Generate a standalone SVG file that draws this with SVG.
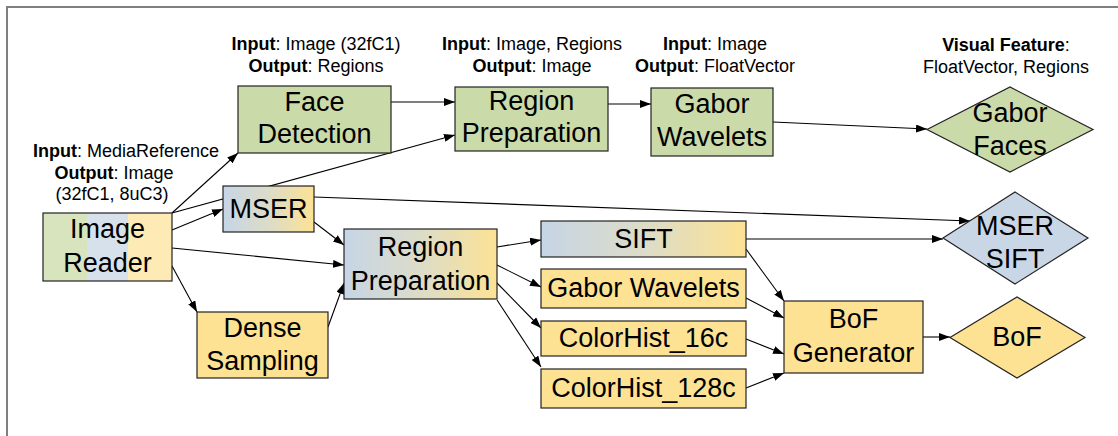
<svg xmlns="http://www.w3.org/2000/svg" width="1118" height="436" viewBox="0 0 1118 436">
  <style>
    text { font-family: "Liberation Sans", Arial, sans-serif; fill: #000; }
    .lbl { font-size: 27px; text-anchor: middle; }
    .note { font-size: 18px; text-anchor: middle; }
    .note tspan.b { font-weight: bold; }
    .box { stroke: #222; stroke-width: 1.2; }
    .green { fill: #cbdaa9; }
    .blue { fill: #c9d6e6; }
    .yellow { fill: #fde294; }
    .mix { fill: url(#blueToYellow); }
    .edge { fill: none; stroke: #000; stroke-width: 1.1; }
    .arr { marker-end: url(#head); }
  </style>
  <defs>
    <linearGradient id="blueToYellow" x1="0" y1="0" x2="1" y2="0">
      <stop offset="0" stop-color="#c6d5e6"/>
      <stop offset="0.5" stop-color="#dcdcc8"/>
      <stop offset="1" stop-color="#fde294"/>
    </linearGradient>
    <marker id="head" viewBox="0 0 11 8" refX="11" refY="4" markerWidth="11" markerHeight="8" markerUnits="userSpaceOnUse" orient="auto">
      <path d="M0,0 L11,4 L0,8 z" fill="#000"/>
    </marker>
  </defs>

  <!-- frame -->
  <path d="M7,436 V7 H1118" fill="none" stroke="#7f7f7f" stroke-width="2"/>

  <!-- annotations -->
  <g id="notes">
    <text class="note" x="316" y="50"><tspan class="b">Input</tspan>: Image (32fC1)</text>
    <text class="note" x="316" y="72"><tspan class="b">Output</tspan>: Regions</text>
    <text class="note" x="532" y="50"><tspan class="b">Input</tspan>: Image, Regions</text>
    <text class="note" x="532" y="72"><tspan class="b">Output</tspan>: Image</text>
    <text class="note" x="715" y="50"><tspan class="b">Input</tspan>: Image</text>
    <text class="note" x="715" y="72"><tspan class="b">Output</tspan>: FloatVector</text>
    <text class="note" x="1006" y="51"><tspan class="b">Visual Feature</tspan>:</text>
    <text class="note" x="1006" y="73">FloatVector, Regions</text>
    <text class="note" x="126" y="157"><tspan class="b">Input</tspan>: MediaReference</text>
    <text class="note" x="114" y="179"><tspan class="b">Output</tspan>: Image</text>
    <text class="note" x="112" y="200">(32fC1, 8uC3)</text>
  </g>

  <!-- connectors -->
  <g id="connectors">
    <line class="edge arr" x1="172" y1="213" x2="238" y2="153"/>
    <line class="edge arr" x1="172" y1="213" x2="455" y2="135"/>
    <line class="edge arr" x1="172" y1="230" x2="223" y2="209"/>
    <line class="edge arr" x1="172" y1="248" x2="344" y2="265"/>
    <line class="edge arr" x1="172" y1="266" x2="197" y2="312"/>
    <line class="edge arr" x1="314" y1="222" x2="344" y2="245"/>
    <line class="edge arr" x1="328" y1="327" x2="344" y2="283"/>
    <line class="edge arr" x1="314" y1="197" x2="970" y2="221"/>
    <line class="edge arr" x1="391" y1="102" x2="455" y2="102"/>
    <line class="edge arr" x1="608" y1="104" x2="651" y2="104"/>
    <line class="edge arr" x1="773" y1="122" x2="927" y2="129"/>
    <line class="edge arr" x1="497" y1="247" x2="541" y2="240"/>
    <line class="edge arr" x1="497" y1="265" x2="541" y2="287"/>
    <line class="edge arr" x1="497" y1="283" x2="541" y2="328"/>
    <line class="edge arr" x1="497" y1="300" x2="541" y2="367"/>
    <line class="edge arr" x1="746" y1="239" x2="943" y2="239"/>
    <line class="edge arr" x1="746" y1="249" x2="784" y2="301"/>
    <line class="edge arr" x1="746" y1="298" x2="784" y2="318"/>
    <line class="edge arr" x1="746" y1="339" x2="784" y2="354"/>
    <line class="edge arr" x1="746" y1="388" x2="784" y2="373"/>
    <line class="edge arr" x1="923" y1="337" x2="950" y2="337"/>
  </g>

  <!-- nodes -->
  <g id="image-reader">
    <rect x="43" y="213" width="44" height="68" fill="#d7e4bd"/>
    <rect x="87" y="213" width="41" height="68" fill="#d6e1ec"/>
    <rect x="128" y="213" width="44" height="68" fill="#feeab5"/>
    <rect x="43" y="213" width="129" height="68" fill="none" class="box"/>
    <text class="lbl" x="107.5" y="238">Image</text>
    <text class="lbl" x="107.5" y="272">Reader</text>
  </g>
  <g id="face-detection">
    <rect class="box green" x="238" y="86" width="153" height="67"/>
    <text class="lbl" x="314.5" y="111">Face</text>
    <text class="lbl" x="314.5" y="143">Detection</text>
  </g>
  <g id="region-prep-faces">
    <rect class="box green" x="455" y="87" width="153" height="64"/>
    <text class="lbl" x="531.5" y="110">Region</text>
    <text class="lbl" x="531.5" y="142">Preparation</text>
  </g>
  <g id="gabor-wavelets-faces">
    <rect class="box green" x="651" y="88" width="122" height="68"/>
    <text class="lbl" x="712" y="113">Gabor</text>
    <text class="lbl" x="712" y="146">Wavelets</text>
  </g>
  <g id="gabor-faces">
    <polygon class="box green" points="927,129.5 1010,87 1093,129.5 1010,172"/>
    <text class="lbl" x="1010" y="122">Gabor</text>
    <text class="lbl" x="1010" y="155">Faces</text>
  </g>
  <g id="mser">
    <rect class="box mix" x="223" y="186" width="91" height="46"/>
    <text class="lbl" x="268.5" y="218">MSER</text>
  </g>
  <g id="region-prep">
    <rect class="box mix" x="344" y="229" width="153" height="70"/>
    <text class="lbl" x="420.5" y="256">Region</text>
    <text class="lbl" x="420.5" y="290">Preparation</text>
  </g>
  <g id="dense-sampling">
    <rect class="box yellow" x="197" y="312" width="131" height="66"/>
    <text class="lbl" x="262.5" y="337">Dense</text>
    <text class="lbl" x="262.5" y="370">Sampling</text>
  </g>
  <g id="sift">
    <rect class="box mix" x="541" y="221" width="205" height="36"/>
    <text class="lbl" x="643.5" y="248">SIFT</text>
  </g>
  <g id="gabor-wavelets">
    <rect class="box yellow" x="541" y="269" width="205" height="39"/>
    <text class="lbl" x="643.5" y="297">Gabor Wavelets</text>
  </g>
  <g id="colorhist-16c">
    <rect class="box yellow" x="541" y="321" width="205" height="35"/>
    <text class="lbl" x="643.5" y="347">ColorHist_16c</text>
  </g>
  <g id="colorhist-128c">
    <rect class="box yellow" x="541" y="369" width="205" height="39"/>
    <text class="lbl" x="643.5" y="397">ColorHist_128c</text>
  </g>
  <g id="bof-generator">
    <rect class="box yellow" x="784" y="301" width="139" height="72"/>
    <text class="lbl" x="853.5" y="328">BoF</text>
    <text class="lbl" x="853.5" y="362">Generator</text>
  </g>
  <g id="mser-sift">
    <polygon class="box blue" points="943,238 1015,192 1088,238 1015,284"/>
    <text class="lbl" x="1015" y="235">MSER</text>
    <text class="lbl" x="1015" y="268">SIFT</text>
  </g>
  <g id="bof">
    <polygon class="box yellow" points="950,337.5 1017,297 1085,337.5 1017,378"/>
    <text class="lbl" x="1017" y="346">BoF</text>
  </g>
</svg>
